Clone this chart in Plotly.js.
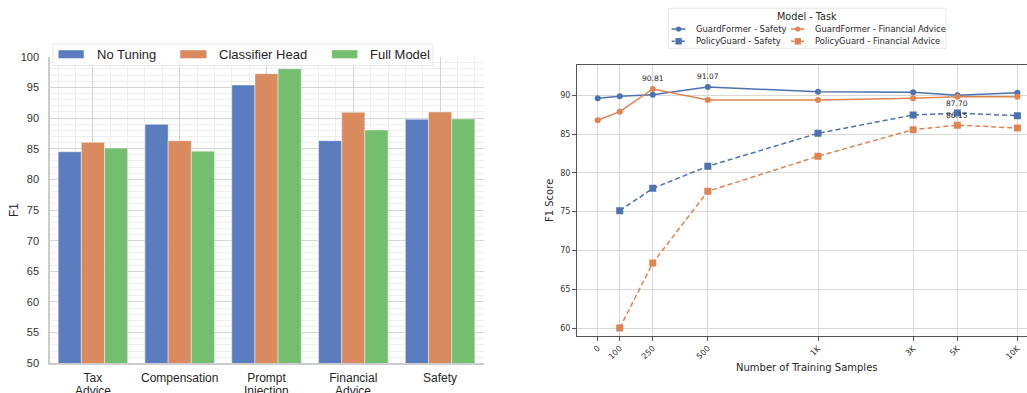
<!DOCTYPE html>
<html>
<head>
<meta charset="utf-8">
<script src="https://cdn.plot.ly/plotly-3.0.1.min.js"></script>
<style>
  html, body { margin: 0; padding: 0; overflow: hidden; background: #ffffff; }
  #chart { width: 1040px; height: 393px; }
</style>
</head>
<body>
<div id="chart"></div>
<script>
// ---- Left panel: F1 per task for each tuning strategy ----
const tasks = ['Tax\nAdvice', 'Compensation', 'Prompt\nInjection', 'Financial\nAdvice', 'Safety'];
const strategies = ['No Tuning', 'Classifier Head', 'Full Model'];
const noTuning = [84.5, 88.97, 95.38, 86.3, 89.79];
const classifierHead = [86.03, 86.3, 97.23, 90.93, 90.98];
const fullModel = [85.1, 84.6, 98.04, 88.04, 89.84];

// ---- Right panel: F1 against number of training samples ----
const sampleSizes = [0, 100, 250, 500, 1000, 3000, 5000, 10000];
const sampleLabels = ['0', '100', '250', '500', '1K', '3K', '5K', '10K'];
const seriesNames = ['GuardFormer - Safety', 'GuardFormer - Financial Advice',
                     'PolicyGuard - Safety', 'PolicyGuard - Financial Advice'];
const gfSafety = [89.61, 89.87, 90.08, 91.07, 90.46, 90.38, 90.0, 90.34];
const gfFinancial = [86.78, 87.89, 90.81, 89.39, 89.39, 89.61, 89.82, 89.82];
const pgSafety = [null, 75.12, 78.0, 80.85, 85.1, 87.46, 87.70, 87.37];
const pgFinancial = [null, 60.0, 68.38, 77.62, 82.14, 85.57, 86.15, 85.78];

const W = 1040, H = 393;
const px = x => x / W;
const py = y => 1 - y / H;

const barColors = ['#5a7dc0', '#d98b5f', '#73bf6f'];
const BLUE = '#4c72b0', ORANGE = '#dd8452';
const leftFont = 'Liberation Sans, Arial, sans-serif';
const rightFont = 'DejaVu Sans, sans-serif';

// symmetric-log style position: linear up to 1K, logarithmic above
function symlog(n) {
  return n <= 1000 ? n / 1000 : 1 + 0.905 * Math.log10(n / 1000);
}

const taskIdx = tasks.map((_, i) => i);
const taskLines = tasks.map(t => t.split('\n'));
const barSeries = [noTuning, classifierHead, fullModel];

const traces = barSeries.map((vals, k) => ({
  type: 'bar',
  x: taskIdx,
  y: vals,
  name: strategies[k],
  marker: { color: barColors[k], line: { color: 'rgba(255,255,255,0.55)', width: 0.8 } },
  xaxis: 'x', yaxis: 'y',
  showlegend: false,
  hoverinfo: 'skip'
}));

const lineSpecs = [
  { y: gfSafety, color: BLUE, symbol: 'circle', dash: 'solid', size: 6 },
  { y: gfFinancial, color: ORANGE, symbol: 'circle', dash: 'solid', size: 6 },
  { y: pgSafety, color: BLUE, symbol: 'square', dash: '5px,3px', size: 7 },
  { y: pgFinancial, color: ORANGE, symbol: 'square', dash: '5px,3px', size: 7 }
];
const xPos = sampleSizes.map(symlog);

lineSpecs.forEach((s, k) => {
  traces.push({
    type: 'scatter',
    mode: 'lines+markers',
    x: xPos,
    y: s.y,
    name: seriesNames[k],
    line: { color: s.color, width: 1.5, dash: s.dash },
    marker: { color: s.color, symbol: s.symbol, size: s.size },
    xaxis: 'x2', yaxis: 'y2',
    showlegend: false,
    hoverinfo: 'skip'
  });
});

const annotations = [];
const shapes = [];

// second line of the two-line task labels
taskLines.forEach((lines, i) => {
  if (lines.length > 1) {
    annotations.push({
      xref: 'x', yref: 'paper', x: i, y: py(390.5),
      xanchor: 'center', yanchor: 'middle', showarrow: false, text: lines[1],
      font: { family: leftFont, size: 12, color: '#262626' }
    });
  }
});

// left y-axis title
annotations.push({
  xref: 'paper', yref: 'paper', x: px(14), y: py(210),
  xanchor: 'center', yanchor: 'middle', showarrow: false, text: 'F1', textangle: -90,
  font: { family: leftFont, size: 12, color: '#262626' }
});

// value labels at each series maximum
lineSpecs.forEach(s => {
  let best = -1;
  s.y.forEach((v, i) => { if (v !== null && (best < 0 || v > s.y[best])) best = i; });
  annotations.push({
    xref: 'x2', yref: 'y2', x: xPos[best], y: s.y[best],
    text: s.y[best].toFixed(2), showarrow: false, yshift: 10,
    font: { family: rightFont, size: 7.5, color: '#262626' }
  });
});

// left legend
shapes.push({
  type: 'rect', xref: 'paper', yref: 'paper', layer: 'above',
  x0: px(53), x1: px(433), y0: py(65.5), y1: py(44),
  fillcolor: 'rgba(255,255,255,0.85)', line: { color: '#e8e8e8', width: 1 }
});
const legSym = [[58.3, 84], [180, 206.7], [331.7, 357.7]];
const legText = [95, 217, 368.3];
strategies.forEach((name, k) => {
  shapes.push({
    type: 'rect', xref: 'paper', yref: 'paper', layer: 'above',
    x0: px(legSym[k][0]), x1: px(legSym[k][1]), y0: py(58.5), y1: py(50),
    fillcolor: barColors[k], line: { color: 'rgba(255,255,255,0.55)', width: 0.8 }
  });
  annotations.push({
    xref: 'paper', yref: 'paper', x: px(legText[k]), y: py(54.5),
    xanchor: 'left', yanchor: 'middle', showarrow: false, text: name,
    font: { family: leftFont, size: 13, color: '#262626' }
  });
});

// right legend
shapes.push({
  type: 'rect', xref: 'paper', yref: 'paper', layer: 'above',
  x0: px(668.3), x1: px(946), y0: py(48.3), y1: py(8.3),
  fillcolor: 'rgba(255,255,255,0.85)', line: { color: '#e8e8e8', width: 1 }
});
annotations.push({
  xref: 'paper', yref: 'paper', x: px(807), y: py(16.5),
  xanchor: 'center', yanchor: 'middle', showarrow: false, text: 'Model - Task',
  font: { family: rightFont, size: 9.7, color: '#262626' }
});
const rowY = [29, 41.3, 29, 41.3];
const colSym = [[671.7, 685.5], [671.7, 685.5], [791, 804.5], [791, 804.5]];
const colText = [694, 694, 813.3, 813.3];
// legend order: col 1 = Safety rows, col 2 = Financial Advice rows
const legendOrder = [0, 2, 1, 3];
legendOrder.forEach((k, slot) => {
  const s = lineSpecs[k];
  const [a, b] = colSym[slot];
  const yv = rowY[slot];
  const c = (a + b) / 2;
  shapes.push({
    type: 'line', xref: 'paper', yref: 'paper', layer: 'above',
    x0: px(a), x1: px(b), y0: py(yv), y1: py(yv),
    line: { color: s.color, width: 1.5, dash: s.dash === 'solid' ? 'solid' : '3px,2px' }
  });
  const r = s.symbol === 'circle' ? 2.6 : 3.2;
  shapes.push({
    type: s.symbol === 'circle' ? 'circle' : 'rect', xref: 'paper', yref: 'paper', layer: 'above',
    x0: px(c - r), x1: px(c + r), y0: py(yv + r), y1: py(yv - r),
    fillcolor: s.color, line: { color: s.color, width: 0 }
  });
  annotations.push({
    xref: 'paper', yref: 'paper', x: px(colText[slot]), y: py(yv),
    xanchor: 'left', yanchor: 'middle', showarrow: false, text: seriesNames[k],
    font: { family: rightFont, size: 8.4, color: '#262626' }
  });
});

const layout = {
  width: W, height: H,
  margin: { l: 0, r: 0, t: 0, b: 0 },
  paper_bgcolor: '#ffffff', plot_bgcolor: '#ffffff',
  barmode: 'group', bargap: 0.2, bargroupgap: 0,
  showlegend: false,
  xaxis: {
    domain: [px(49.5), px(483.5)], anchor: 'y',
    range: [-0.5, 4.5], tickmode: 'array', tickvals: taskIdx, ticktext: taskLines.map(l => l[0]),
    showgrid: true, gridcolor: '#d4d4d4', gridwidth: 1,
    minor: { tickmode: 'linear', tick0: 0, dtick: 0.2, showgrid: true, gridcolor: '#eeeeee', gridwidth: 1, ticks: '' },
    showline: true, linecolor: '#cccccc', linewidth: 1.2, zeroline: false,
    ticks: 'outside', ticklen: 3, tickcolor: 'rgba(0,0,0,0)',
    tickfont: { family: leftFont, size: 12, color: '#262626' }
  },
  yaxis: {
    domain: [py(363.3), py(56.7)], anchor: 'x',
    range: [50, 100], tickmode: 'linear', tick0: 0, dtick: 5,
    showgrid: true, gridcolor: '#d4d4d4', gridwidth: 1,
    minor: { tickmode: 'linear', tick0: 0, dtick: 1, showgrid: true, gridcolor: '#eeeeee', gridwidth: 1, ticks: '' },
    showline: true, linecolor: '#cccccc', linewidth: 1.2, zeroline: false,
    ticks: 'outside', ticklen: 7, tickcolor: 'rgba(0,0,0,0)',
    tickfont: { family: leftFont, size: 11, color: '#333333' }
  },
  xaxis2: {
    domain: [px(576.5), px(1037)], anchor: 'y2',
    range: [symlog(0) - 0.0962, 1.994], tickmode: 'array', tickvals: xPos, ticktext: sampleLabels,
    tickangle: -45,
    showgrid: true, gridcolor: '#d9d9d9', gridwidth: 1,
    showline: true, mirror: true, linecolor: '#555555', linewidth: 1, zeroline: false,
    ticks: 'outside', ticklen: 3.5, tickwidth: 1, tickcolor: '#555555',
    tickfont: { family: rightFont, size: 8, color: '#333333' },
    title: { text: 'Number of Training Samples', font: { family: rightFont, size: 10, color: '#262626' }, standoff: 3 }
  },
  yaxis2: {
    domain: [py(336), py(64.7)], anchor: 'x2',
    range: [58.97, 93.94], tickmode: 'linear', tick0: 0, dtick: 5,
    showgrid: true, gridcolor: '#d9d9d9', gridwidth: 1,
    showline: true, linecolor: '#555555', linewidth: 1, zeroline: false,
    ticks: 'outside', ticklen: 3.5, tickwidth: 1, tickcolor: '#555555',
    tickfont: { family: rightFont, size: 8, color: '#333333' },
    title: { text: 'F1 Score', font: { family: rightFont, size: 10, color: '#262626' }, standoff: 4 }
  },
  shapes: shapes,
  annotations: annotations
};

Plotly.newPlot('chart', traces, layout, { displayModeBar: false, staticPlot: true });
</script>
</body>
</html>
